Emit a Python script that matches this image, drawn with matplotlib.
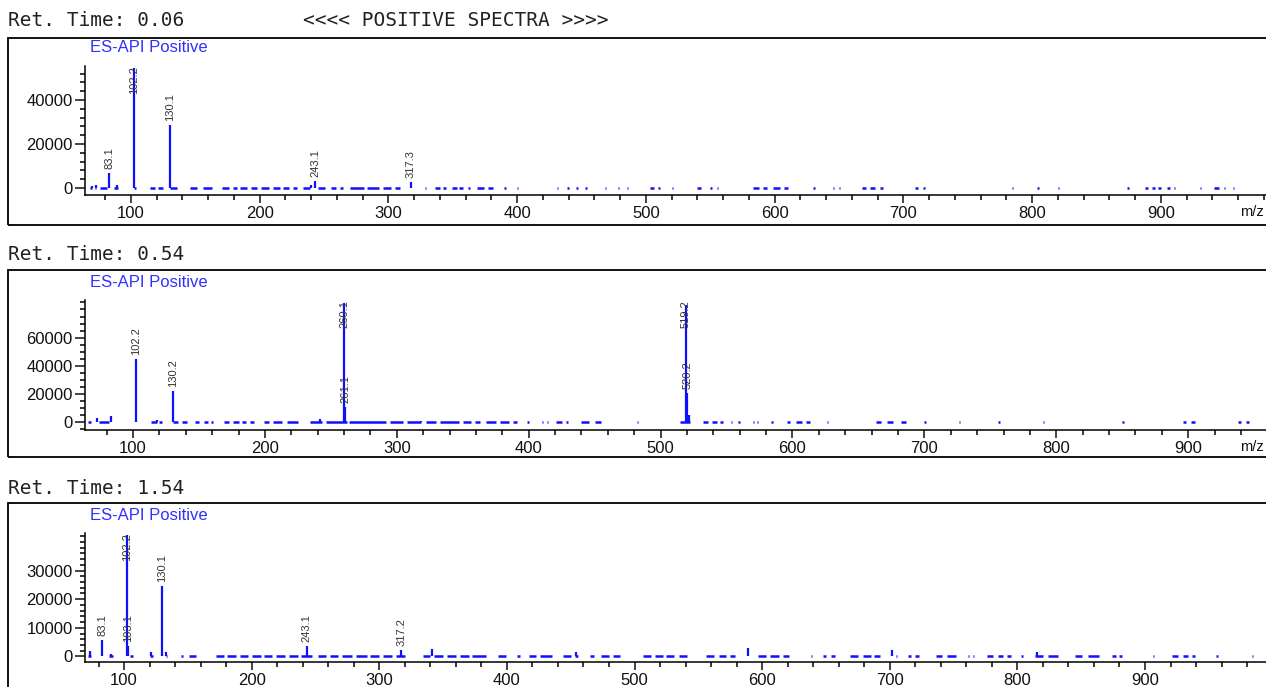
import matplotlib
matplotlib.use('Agg')
import matplotlib.pyplot as plt
from matplotlib.ticker import MultipleLocator, FixedLocator
from matplotlib.patches import Rectangle

W, H = 1266, 687

# ---- values ----
ret_times = ['0.06', '0.54', '1.54']

# Ret. Time 0.06
mz1 = [70, 73, 83.1, 89, 102.2, 130.1, 240, 243.1, 317.3]
int1 = [1000, 1500, 6800, 1500, 54500, 28600, 1500, 3200, 2900]
lab1 = ['', '', '83.1', '', '102.2', '130.1', '', '243.1', '317.3']
noise1 = [(68, 70), (72, 73), (76, 81), (87, 90), (102, 104), (115, 119), (121, 125),
          (130, 136), (146, 151), (156, 163), (171, 176), (179, 182), (185, 190),
          (193, 198), (201, 207), (210, 216), (218, 223), (226, 229), (234, 239),
          (245, 251), (255, 259), (262, 265), (270, 281), (283, 293), (296, 302),
          (305, 309), (328, 329), (336, 340), (342, 345), (349, 353), (355, 358),
          (362, 363), (369, 374), (377, 381), (390, 391), (400, 401), (431, 432),
          (439, 440), (446, 447), (453, 454), (468, 469), (478, 479), (485, 486),
          (503, 506), (509, 511), (520, 521), (540, 543), (550, 551), (555, 556),
          (583, 588), (591, 594), (599, 604), (607, 610), (630, 631), (645, 646),
          (650, 651), (668, 671), (674, 678), (682, 684), (709, 711), (715, 717),
          (784, 785), (804, 805), (820, 821), (874, 875), (888, 890), (893, 895),
          (898, 900), (905, 907), (910, 911), (930, 931), (941, 945), (949, 950),
          (956, 957)]
yticks1 = [0, 20000, 40000]

# Ret. Time 0.54
mz2 = [73, 83, 102.2, 118, 130.2, 242, 260.1, 261.1, 318, 519.2, 520.2, 521.2]
int2 = [3000, 4500, 44900, 1500, 22200, 2500, 84500, 11000, 1200, 83500, 20500, 5000]
lab2 = ['', '', '102.2', '', '130.2', '', '260.1', '261.1', '', '519.2', '520.2', '']
noise2 = [(66, 68), (74, 82), (114, 118), (120, 122), (130, 134), (137, 141),
          (147, 150), (154, 157), (159, 161), (169, 173), (176, 180), (183, 186),
          (189, 192), (199, 203), (206, 213), (217, 225), (234, 243), (246, 262),
          (264, 292), (295, 305), (308, 318), (322, 330), (333, 347), (350, 356),
          (359, 363), (368, 375), (378, 385), (388, 391), (399, 400), (410, 411),
          (414, 415), (421, 425), (428, 430), (440, 446), (450, 455), (482, 483),
          (515, 522), (532, 536), (539, 543), (545, 547), (553, 554), (559, 560),
          (570, 571), (573, 574), (584, 585), (596, 598), (603, 607), (610, 613),
          (626, 627), (663, 667), (672, 676), (682, 686), (700, 701), (726, 727),
          (756, 757), (790, 791), (850, 851), (896, 898), (902, 905), (938, 940),
          (944, 946)]
yticks2 = [0, 20000, 40000, 60000]

# Ret. Time 1.54
mz3 = [73, 83.1, 90, 102.2, 103.1, 121, 130.1, 133, 243.1, 317.2, 341, 454, 589, 702, 815]
int3 = [1800, 5800, 1000, 42500, 3500, 1500, 24500, 1500, 3500, 2300, 2500, 1500, 2800, 2300, 1500]
lab3 = ['', '83.1', '', '102.2', '103.1', '', '130.1', '', '243.1', '317.2', '', '', '', '', '']
noise3 = [(72, 74), (88, 91), (105, 107), (120, 123), (133, 134), (145, 146), (151, 156),
          (172, 178), (181, 188), (191, 197), (200, 207), (210, 216), (219, 226),
          (229, 236), (239, 247), (252, 258), (261, 268), (271, 279), (282, 290),
          (293, 300), (303, 310), (313, 320), (334, 340), (343, 350), (353, 360),
          (363, 370), (373, 384), (393, 399), (408, 410), (417, 423), (426, 435),
          (444, 450), (453, 456), (465, 468), (474, 480), (483, 489), (507, 513),
          (516, 522), (525, 531), (535, 541), (556, 562), (566, 572), (575, 579),
          (597, 603), (606, 613), (616, 621), (638, 639), (648, 650), (654, 657),
          (669, 675), (679, 685), (688, 692), (705, 706), (714, 717), (720, 723),
          (736, 741), (745, 752), (761, 762), (765, 766), (776, 781), (785, 789),
          (792, 795), (803, 804), (814, 820), (824, 832), (845, 851), (855, 864),
          (874, 877), (880, 882), (906, 907), (921, 926), (930, 934), (937, 939),
          (956, 957), (984, 985)]
yticks3 = [0, 10000, 20000, 30000]

# ---- layout (pixels in the 1266x687 picture) ----
panels = [
    dict(mz=mz1, inten=int1, lab=lab1, noise=noise1, yt=yticks1, ymin_step=4000,
         frame=(38, 225), ax=(66, 195), xlim=(64.3, 981.6), ylim=(-3180, 55450),
         title_y=21, es_y=47, mz_label=True),
    dict(mz=mz2, inten=int2, lab=lab2, noise=noise2, yt=yticks2, ymin_step=5000,
         frame=(270, 457), ax=(300, 430), xlim=(63.6, 959.0), ylim=(-5460, 86700),
         title_y=254, es_y=282, mz_label=True),
    dict(mz=mz3, inten=int3, lab=lab3, noise=noise3, yt=yticks3, ymin_step=2000,
         frame=(503, 720), ax=(533, 662), xlim=(69.4, 994.8), ylim=(-1960, 43150),
         title_y=488, es_y=516, mz_label=False),
]

BLUE = '#1010ff'
SANS = ['Liberation Sans', 'DejaVu Sans']
MONO = ['DejaVu Sans Mono']

fig = plt.figure(figsize=(W / 100, H / 100), dpi=100)
fig.patch.set_facecolor('white')


def fx(px):
    return px / W


def fy(py):
    return 1 - py / H


for i, p in enumerate(panels):
    ftop, fbot = p['frame']
    fig.patches.append(Rectangle((fx(8), fy(fbot)), fx(1320 - 8), (fbot - ftop) / H,
                                 transform=fig.transFigure, fill=False,
                                 ec='black', lw=1.3, zorder=0))
    fig.text(fx(8), fy(p['title_y']), 'Ret. Time: ' + ret_times[i],
             family=MONO, fontsize=14, color='#222222', va='center', ha='left')
    if i == 0:
        fig.text(fx(303), fy(p['title_y']), '<<<< POSITIVE SPECTRA >>>>',
                 family=MONO, fontsize=14, color='#222222', va='center', ha='left')
    fig.text(fx(90), fy(p['es_y']), 'ES-API Positive', family=SANS, fontsize=12,
             color='#3030ff', va='center', ha='left')

    atop, abot = p['ax']
    ax = fig.add_axes([fx(85), fy(abot), fx(1266 - 85), (abot - atop) / H])
    ax.set_facecolor('none')
    ax.set_xlim(*p['xlim'])
    ax.set_ylim(*p['ylim'])
    for s in ['top', 'right']:
        ax.spines[s].set_visible(False)
    for s in ['left', 'bottom']:
        ax.spines[s].set_linewidth(1.1)

    # baseline clusters of tiny peaks
    ax.hlines([0] * len(p['noise']), [a for a, b in p['noise']], [b for a, b in p['noise']],
              colors=BLUE, lw=1.8, clip_on=False)
    # peaks
    ax.vlines(p['mz'], 0, p['inten'], colors=BLUE, lw=1.6)

    ymin, ymax = p['ylim']
    per_px = (ymax - ymin) / (abot - atop)
    for m, h, lab in zip(p['mz'], p['inten'], p['lab']):
        if not lab:
            continue
        if h + 37 * per_px > ymax:
            ax.text(m, ymax, lab, rotation=90, ha='center', va='top',
                    family=SANS, fontsize=8, color='#333333', clip_on=False)
        else:
            ax.text(m, h + 4 * per_px, lab, rotation=90, ha='center', va='bottom',
                    family=SANS, fontsize=8, color='#333333', clip_on=False)

    ax.xaxis.set_major_locator(MultipleLocator(100))
    ax.xaxis.set_minor_locator(MultipleLocator(20))
    ax.yaxis.set_major_locator(FixedLocator(p['yt']))
    ax.yaxis.set_minor_locator(MultipleLocator(p['ymin_step']))
    ax.tick_params(axis='x', which='major', direction='out', length=6, width=1.1,
                   labelsize=12, pad=2, colors='#111111')
    ax.tick_params(axis='x', which='minor', direction='out', length=3.5, width=1.1)
    ax.tick_params(axis='y', which='major', direction='out', length=7, width=1.1,
                   labelsize=12, pad=2, colors='#111111')
    ax.tick_params(axis='y', which='minor', direction='out', length=3.5, width=1.1)
    for t in ax.get_xticklabels() + ax.get_yticklabels():
        t.set_family(SANS)

    if p['mz_label']:
        fig.text(fx(1264), fy(abot + 17), 'm/z', family=SANS, fontsize=10.5,
                 color='#111111', va='center', ha='right')

fig.savefig('out.png', dpi=100)
